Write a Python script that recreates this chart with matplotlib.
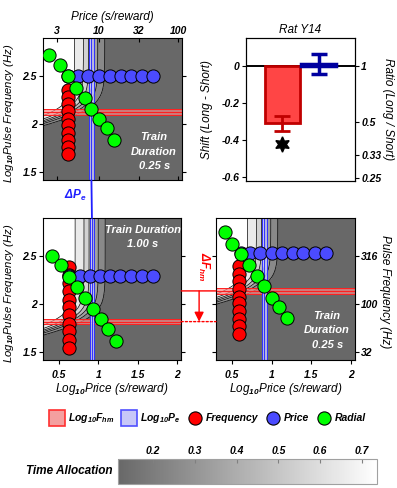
# -*- coding: utf-8 -*-
## reward mountain panels + shift bar chart (Rat Y14)
import numpy as np
import matplotlib
matplotlib.use("Agg")
import matplotlib.pyplot as plt
from matplotlib.colors import LinearSegmentedColormap, Normalize
from matplotlib.cm import ScalarMappable
from matplotlib.patches import ConnectionPatch
from matplotlib.lines import Line2D
import matplotlib.transforms as mtransforms

plt.rcParams['font.family'] = 'Liberation Sans'
plt.rcParams['font.weight'] = 'bold'
plt.rcParams['font.style'] = 'italic'
plt.rcParams['mathtext.fontset'] = 'custom'
plt.rcParams['mathtext.rm'] = 'Liberation Sans:italic:bold'
plt.rcParams['mathtext.it'] = 'Liberation Sans:italic:bold'
plt.rcParams['mathtext.bf'] = 'Liberation Sans:italic:bold'

# ---- data (log10 price, log10 pulse frequency) ----
# top-left: train duration 0.25 s
tl_fhm = 2.125
tl_pe = 0.91
tl_red_x = 0.61
tl_red_y = [2.36, 2.29, 2.21, 2.14, 2.06, 1.99, 1.91, 1.84, 1.76, 1.69]
tl_blue_x = [0.61, 0.74, 0.87, 1.00, 1.14, 1.28, 1.41, 1.55, 1.69]
tl_blue_y = 2.50
tl_green_x = [0.38, 0.51, 0.62, 0.71, 0.83, 0.91, 1.00, 1.10, 1.20]
tl_green_y = [2.72, 2.62, 2.50, 2.38, 2.28, 2.16, 2.06, 1.96, 1.84]

# bottom-left: train duration 1.00 s
bl_fhm = 1.82
bl_pe = 0.92
bl_red_x = 0.63
bl_red_y = [2.39, 2.31, 2.22, 2.14, 2.05, 1.97, 1.89, 1.80, 1.72, 1.63, 1.55]
bl_blue_x = [0.63, 0.77, 0.90, 1.02, 1.15, 1.28, 1.42, 1.56, 1.69]
bl_blue_y = 2.30
bl_green_x = [0.41, 0.53, 0.63, 0.73, 0.83, 0.93, 1.03, 1.12, 1.22]
bl_green_y = [2.50, 2.41, 2.28, 2.18, 2.07, 1.95, 1.85, 1.74, 1.62]

# bottom-right: train duration 0.25 s
br_fhm = 2.14
br_pe = 0.91
br_red_x = 0.59
br_red_y = [2.40, 2.32, 2.24, 2.16, 2.08, 2.01, 1.93, 1.85, 1.77, 1.69]
br_blue_x = [0.61, 0.73, 0.86, 1.00, 1.13, 1.27, 1.40, 1.55, 1.68]
br_blue_y = 2.53
br_green_x = [0.41, 0.50, 0.61, 0.71, 0.82, 0.91, 1.01, 1.09, 1.19]
br_green_y = [2.75, 2.63, 2.52, 2.41, 2.30, 2.19, 2.07, 1.97, 1.86]

# mountain model parameters
t_min = 0.12
t_max = 0.75
slope_a = 5.0
gain_g = 5.0

# bar chart (long - short)
shift_fhm = -0.31
shift_fhm_err = 0.04
shift_pe = 0.01
shift_pe_err = 0.055
star_y = -0.42
ratio_ticks = [1, 0.5, 0.33, 0.25]

ta_ticks = [0.2, 0.3, 0.4, 0.5, 0.6, 0.7]
ta_min, ta_max = 0.116, 0.736

cmap = LinearSegmentedColormap.from_list("ta", ["#686868", "#ffffff"])
norm = Normalize(ta_min, ta_max)

RED = "#ff0000"
BLUE = "#4b4bff"
GREEN = "#00ff00"
TICK_FS = 7.5
LAB_FS = 8.5


def mountain(logp, logf, log_fhm, log_pe):
    inten = 1.0 / (1.0 + 10 ** (gain_g * (log_fhm - logf)))
    return t_min + (t_max - t_min) * inten ** slope_a / (
        inten ** slope_a + 10 ** (slope_a * (logp - log_pe)))


def draw_panel(ax, fhm, pe, red_x, red_y, blue_x, blue_y, green_x, green_y):
    gx = np.linspace(0.2, 2.1, 300)
    gy = np.linspace(1.3, 3.0, 300)
    X, Y = np.meshgrid(gx, gy)
    Z = mountain(X, Y, fhm, pe)
    levels = [0.0] + ta_ticks + [1.0]
    ax.contourf(X, Y, Z, levels=levels, cmap=cmap, norm=norm, zorder=0)
    ax.contour(X, Y, Z, levels=ta_ticks, colors="k", linewidths=0.5, zorder=1)
    # Fhm band
    ax.axhspan(fhm - 0.03, fhm + 0.03, color="#ff8080", alpha=0.7, lw=0, zorder=2)
    for yy in (fhm - 0.03, fhm, fhm + 0.03):
        ax.axhline(yy, color="#ff2020", lw=0.7, zorder=2)
    # Pe band
    ax.axvspan(pe - 0.03, pe + 0.03, color="#c8c8ff", alpha=0.8, lw=0, zorder=2)
    for xx in (pe - 0.03, pe, pe + 0.03):
        ax.axvline(xx, color="#3030ff", lw=0.7, zorder=2)
    ax.plot([red_x] * len(red_y), red_y, "o", ms=9.5, mfc=RED, mec="k", mew=0.7, zorder=3)
    ax.plot(blue_x, [blue_y] * len(blue_x), "o", ms=9.5, mfc=BLUE, mec="k", mew=0.7, zorder=4)
    ax.plot(green_x, green_y, "o", ms=9.5, mfc=GREEN, mec="k", mew=0.7, zorder=5)
    ax.set_xlim(0.3, 2.05)
    ax.set_ylim(1.42, 2.9)
    ax.set_yticks([2.5, 2, 1.5])
    ax.set_xticks([0.5, 1, 1.5, 2])
    ax.tick_params(direction="out", length=3, width=0.8, labelsize=TICK_FS,
                   left=True, right=True, top=False, bottom=True)
    ax.tick_params(axis="y", pad=1.5)
    ax.tick_params(axis="x", pad=4)


fig = plt.figure(figsize=(3.97, 4.88), dpi=100)

ax_tl = fig.add_axes([0.1083, 0.6311, 0.350, 0.291])
ax_bl = fig.add_axes([0.1083, 0.2623, 0.348, 0.291])
ax_br = fig.add_axes([0.5441, 0.2623, 0.350, 0.291])
ax_bar = fig.add_axes([0.6196, 0.6290, 0.2746, 0.293])

draw_panel(ax_tl, tl_fhm, tl_pe, tl_red_x, tl_red_y, tl_blue_x, tl_blue_y, tl_green_x, tl_green_y)
draw_panel(ax_bl, bl_fhm, bl_pe, bl_red_x, bl_red_y, bl_blue_x, bl_blue_y, bl_green_x, bl_green_y)
draw_panel(ax_br, br_fhm, br_pe, br_red_x, br_red_y, br_blue_x, br_blue_y, br_green_x, br_green_y)

ylab = r"Log$_{10}$Pulse Frequency (Hz)"
xlab = r"Log$_{10}$Price (s/reward)"

# top-left: price axis on top
ax_tl.set_xticks(np.log10([3, 10, 32, 100]))
ax_tl.set_xticklabels(["3", "10", "32", "100"])
ax_tl.tick_params(top=True, labeltop=True, labelbottom=False)
ax_tl.tick_params(axis="x", which="both", direction="in", pad=1.5)
ax_tl.xaxis.set_label_position("top")
ax_tl.set_xlabel("Price (s/reward)", fontsize=LAB_FS)
ax_tl.xaxis.set_label_coords(0.5, 1.125)
ax_tl.set_yticklabels(["2.5", "2", "1.5"])
ax_tl.set_ylabel(ylab, fontsize=8.2)
ax_tl.yaxis.set_label_coords(-0.196, 0.47)
ax_tl.text(0.80, 0.20, "Train\nDuration\n0.25 s", transform=ax_tl.transAxes, color="w",
           fontsize=8, ha="center", va="center", linespacing=1.55, zorder=6)

ax_bl.set_yticklabels(["2.5", "2", "1.5"])
ax_bl.set_xticklabels(["0.5", "1", "1.5", "2"])
ax_bl.set_ylabel(ylab, fontsize=8.2)
ax_bl.yaxis.set_label_coords(-0.196, 0.47)
ax_bl.set_xlabel(xlab, fontsize=LAB_FS)
ax_bl.xaxis.set_label_coords(0.5, -0.15)
ax_bl.text(0.72, 0.865, "Train Duration\n1.00 s", transform=ax_bl.transAxes, color="w",
           fontsize=8, ha="center", va="center", linespacing=1.55, zorder=6)

ax_br.set_yticks(np.log10([316, 100, 32]))
ax_br.set_yticklabels(["316", "100", "32"])
ax_br.tick_params(labelleft=False, labelright=True)
ax_br.set_xticklabels(["0.5", "1", "1.5", "2"])
ax_br.yaxis.set_label_position("right")
ax_br.set_ylabel("Pulse Frequency (Hz)", fontsize=8.5, rotation=-90, va="center")
ax_br.yaxis.set_label_coords(1.215, 0.48)
ax_br.set_xlabel(xlab, fontsize=LAB_FS)
ax_br.xaxis.set_label_coords(0.5, -0.15)
ax_br.text(0.80, 0.21, "Train\nDuration\n0.25 s", transform=ax_br.transAxes, color="w",
           fontsize=8, ha="center", va="center", linespacing=1.55, zorder=6)

# delta Pe link between the two left panels
con = ConnectionPatch(xyA=(tl_pe, 1.42), coordsA=ax_tl.transData,
                      xyB=(bl_pe, 2.9), coordsB=ax_bl.transData,
                      color="#2020ff", lw=1.3)
fig.add_artist(con)
ax_bl.annotate(r"$\Delta$P$_e$", xy=(bl_pe, 2.9), xycoords="data", xytext=(-4, 16),
               textcoords="offset points", ha="right", va="center",
               color="#2020ff", fontsize=LAB_FS, annotation_clip=False)

# delta Fhm link between the two bottom panels
con = ConnectionPatch(xyA=(2.05, br_fhm), coordsA=ax_bl.transData,
                      xyB=(0.3, br_fhm), coordsB=ax_br.transData, color="red", lw=1.0)
fig.add_artist(con)
con = ConnectionPatch(xyA=(2.05, bl_fhm), coordsA=ax_bl.transData,
                      xyB=(0.3, bl_fhm), coordsB=ax_br.transData, color="red", lw=1.0,
                      linestyle=(0, (1.5, 1.5)))
fig.add_artist(con)
gap = mtransforms.blended_transform_factory(ax_bl.transAxes, ax_bl.transData)
ax_bl.annotate("", xy=(1.13, bl_fhm), xycoords=gap, xytext=(1.13, br_fhm), textcoords=gap,
               arrowprops=dict(arrowstyle="-|>", color="red", lw=1.0, mutation_scale=14,
                               shrinkA=0, shrinkB=0), annotation_clip=False)
ax_bl.text(1.165, br_fhm + 0.25, r"$\Delta$F$_{hm}$", transform=gap, rotation=-90,
           color="red", fontsize=LAB_FS, ha="center", va="center")

# ---- bar panel ----
ax_bar.axhline(0, color="k", lw=1.4, zorder=1)
ax_bar.bar([1], [shift_fhm], width=0.95, color="#ff4545", edgecolor="#c00000", lw=2, zorder=2)
ax_bar.errorbar([1], [shift_fhm], yerr=[shift_fhm_err], color="#c00000", lw=2,
                capsize=6, capthick=2, zorder=3)
ax_bar.bar([2], [shift_pe], width=0.95, color="#2020e0", edgecolor="#0000a0", lw=2.5, zorder=2)
ax_bar.errorbar([2], [shift_pe], yerr=[shift_pe_err], color="#0000a0", lw=2.5,
                capsize=6, capthick=2.5, zorder=3)
ax_bar.plot([1], [star_y], marker=(6, 1, 0), ms=11, color="k", zorder=4)
ax_bar.set_xlim(0, 3)
ax_bar.set_ylim(-0.62, 0.15)
ax_bar.set_xticks([])
ax_bar.set_yticks([0, -0.2, -0.4, -0.6])
ax_bar.set_yticklabels(["0", "-0.2", "-0.4", "-0.6"])
ax_bar.tick_params(direction="out", length=3, labelsize=TICK_FS, pad=1.5)
ax_bar.set_ylabel("Shift (Long - Short)", fontsize=LAB_FS)
ax_bar.yaxis.set_label_coords(-0.30, 0.5)
ax_bar.set_title("Rat Y14", fontsize=LAB_FS, pad=4)
ax_r = ax_bar.twinx()
ax_r.set_ylim(-0.62, 0.15)
ax_r.set_yticks(np.log10(ratio_ticks))
ax_r.set_yticklabels(["1", "0.5", "0.33", "0.25"])
ax_r.tick_params(direction="out", length=3, labelsize=TICK_FS, pad=1.5)
ax_r.set_ylabel("Ratio (Long / Short)", fontsize=LAB_FS, rotation=-90, va="center")
ax_r.yaxis.set_label_coords(1.30, 0.5)

# ---- legend ----
handles = [
    Line2D([], [], ls="", marker="s", ms=11.5, mfc="#f4a0a0", mec="#ff3030", mew=1.2),
    Line2D([], [], ls="", marker="s", ms=11.5, mfc="#c8c8f8", mec="#5050ff", mew=1.2),
    Line2D([], [], ls="", marker="o", ms=9.5, mfc=RED, mec="k", mew=0.8),
    Line2D([], [], ls="", marker="o", ms=9.5, mfc=BLUE, mec="k", mew=0.8),
    Line2D([], [], ls="", marker="o", ms=9.5, mfc=GREEN, mec="k", mew=0.8),
]
labels = [r"Log$_{10}$F$_{hm}$", r"Log$_{10}$P$_{e}$", "Frequency", "Price", "Radial"]
fig.legend(handles, labels, loc="center", bbox_to_anchor=(0.523, 0.143), ncol=5,
           frameon=False, fontsize=7.5, handlelength=1.5, handletextpad=0.25,
           columnspacing=0.7, borderpad=0)

# ---- colorbar ----
cax = fig.add_axes([0.2972, 0.0082, 0.6524, 0.0512])
cb = fig.colorbar(ScalarMappable(norm=norm, cmap=cmap), cax=cax, orientation="horizontal",
                  ticks=ta_ticks)
cax.xaxis.set_ticks_position("top")
cax.tick_params(direction="in", length=3, labelsize=TICK_FS, color="#808080", pad=2)
cb.outline.set_edgecolor("#a0a0a0")
fig.text(0.283, 0.034, "Time Allocation", fontsize=LAB_FS, ha="right", va="center")

fig.savefig("out.png", dpi=100)
